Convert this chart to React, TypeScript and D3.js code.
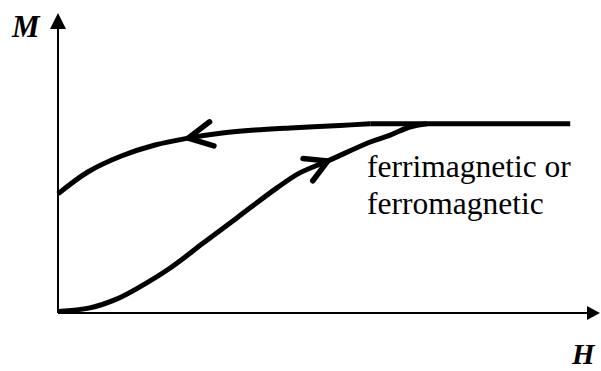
import React from "react";
import * as d3 from "d3";

// Data in arbitrary units (H horizontal, M vertical)
const lowerH = [0, 0.59, 1.09, 1.51, 2.07, 2.68, 3.3, 4.04, 4.46, 4.98, 5.76, 6.13, 6.49, 6.81];
const lowerM = [0.05, 0.17, 0.47, 0.87, 1.5, 2.33, 3.17, 4.17, 4.67, 5.07, 5.7, 5.93, 6.2, 6.31];
const upperH = [0, 0.55, 1.18, 1.79, 2.4, 3.03, 3.63, 4.28, 5.2, 5.76];
const upperM = [3.97, 4.7, 5.24, 5.6, 5.83, 6.0, 6.1, 6.17, 6.25, 6.31];
const saturationH = [5.76, 9.45];
const saturationM = [6.31, 6.31];
const arrowUpperIndex = 4; // pointing toward decreasing H
const arrowLowerIndex = 9; // pointing toward increasing H
const labelLines = ["ferrimagnetic or", "ferromagnetic"];

const W = 601;
const H = 371;
const SERIF = "Liberation Serif, Times New Roman, serif";

export default function App() {
  const x = d3.scaleLinear().domain([0, 10]).range([58, 600]);
  const y = d3.scaleLinear().domain([0, 10]).range([313, 13]);
  const line = d3
    .line<[number, number]>()
    .x((d) => x(d[0]))
    .y((d) => y(d[1]))
    .curve(d3.curveCatmullRom.alpha(0.5));

  const lower: [number, number][] = lowerH.map((h, i) => [h, lowerM[i]]);
  const upper: [number, number][] = upperH.map((h, i) => [h, upperM[i]]);
  const sat: [number, number][] = saturationH.map((h, i) => [h, saturationM[i]]);

  const chevron = (pts: [number, number][], idx: number, forward: boolean, len: number, half: number) => {
    const p = pts[idx];
    const a = pts[idx - 1];
    const b = pts[idx + 1];
    const dx = x(b[0]) - x(a[0]);
    const dy = y(b[1]) - y(a[1]);
    let ang = Math.atan2(dy, dx);
    if (!forward) ang += Math.PI;
    const back = ang + Math.PI;
    const tx = x(p[0]);
    const ty = y(p[1]);
    const r = (half * Math.PI) / 180;
    const p1 = [tx + len * Math.cos(back - r), ty + len * Math.sin(back - r)];
    const p2 = [tx + len * Math.cos(back + r), ty + len * Math.sin(back + r)];
    return `M${p1[0]},${p1[1]}L${tx},${ty}L${p2[0]},${p2[1]}`;
  };

  const x0 = x(0);
  const y0 = y(0);

  return (
    <svg
      width={W}
      height={H}
      style={{ position: "absolute", left: 0, top: 0, background: "#fff" }}
    >
      {/* axes */}
      <line x1={x0} y1={y0} x2={x0} y2={28} stroke="#000" strokeWidth={2} />
      <path d={`M${x0},13L${x0 - 8},29L${x0 + 8},29Z`} fill="#000" />
      <line x1={x0} y1={y0} x2={588} y2={y0} stroke="#000" strokeWidth={2} />
      <path d={`M600,${y0}L587,${y0 - 7}L587,${y0 + 7}Z`} fill="#000" />

      {/* curves */}
      <path d={line(lower) || ""} fill="none" stroke="#000" strokeWidth={5} />
      <path d={line(upper) || ""} fill="none" stroke="#000" strokeWidth={5} />
      <path d={line(sat) || ""} fill="none" stroke="#000" strokeWidth={5} />

      {/* direction arrows */}
      <path
        d={chevron(upper, arrowUpperIndex, false, 27, 27)}
        fill="none"
        stroke="#000"
        strokeWidth={5.5}
        strokeLinecap="round"
        strokeLinejoin="round"
      />
      <path
        d={chevron(lower, arrowLowerIndex, true, 25, 29)}
        fill="none"
        stroke="#000"
        strokeWidth={5.5}
        strokeLinecap="round"
        strokeLinejoin="round"
      />

      {/* labels */}
      <text x={12} y={37} fontFamily={SERIF} fontWeight="bold" fontStyle="italic" fontSize={31} fill="#000">
        M
      </text>
      <text x={572} y={364} fontFamily={SERIF} fontWeight="bold" fontStyle="italic" fontSize={29} fill="#000">
        H
      </text>
      {labelLines.map((t, i) => (
        <text key={t} x={367} y={177 + i * 37} fontFamily={SERIF} fontSize={31.5} fill="#000">
          {t}
        </text>
      ))}
    </svg>
  );
}
